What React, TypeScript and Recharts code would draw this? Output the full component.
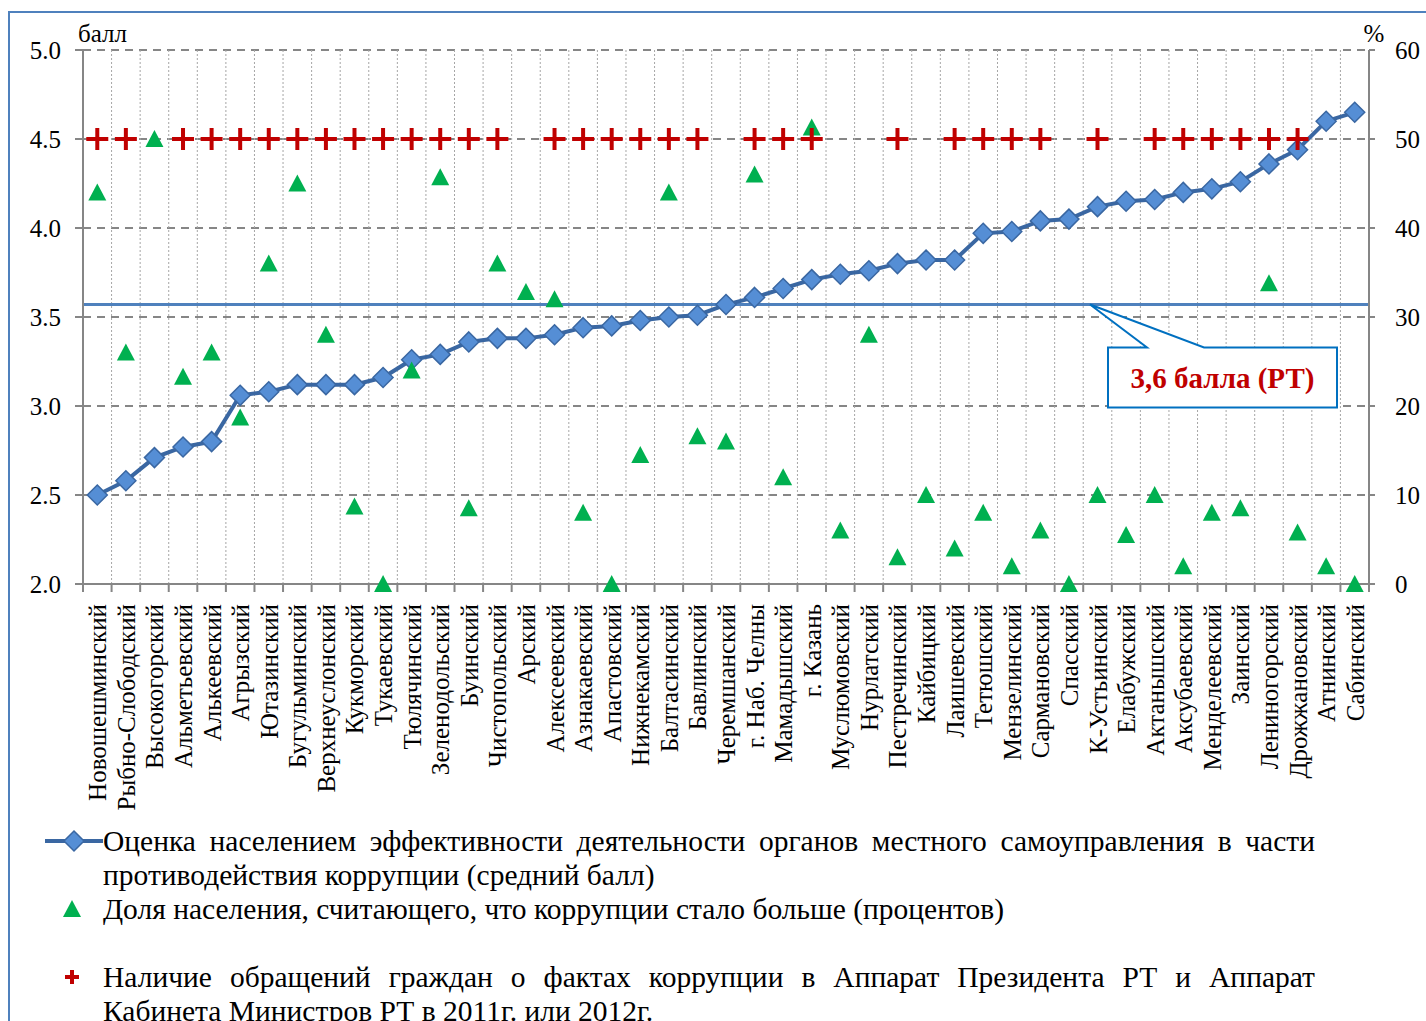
import React from 'react'
import {
  ComposedChart,
  Line,
  XAxis,
  YAxis,
  CartesianGrid,
  ReferenceLine,
} from 'recharts'

const districts = [
  'Новошешминский', 'Рыбно-Слободский', 'Высокогорский', 'Альметьевский', 'Алькеевский',
  'Агрызский', 'Ютазинский', 'Бугульминский', 'Верхнеуслонский', 'Кукморский',
  'Тукаевский', 'Тюлячинский', 'Зеленодольский', 'Буинский', 'Чистопольский',
  'Арский', 'Алексеевский', 'Азнакаевский', 'Апастовский', 'Нижнекамский',
  'Балтасинский', 'Бавлинский', 'Черемшанский', 'г. Наб. Челны', 'Мамадышский',
  'г. Казань', 'Муслюмовский', 'Нурлатский', 'Пестречинский', 'Кайбицкий',
  'Лаишевский', 'Тетюшский', 'Мензелинский', 'Сармановский', 'Спасский',
  'К-Устьинский', 'Елабужский', 'Актанышский', 'Аксубаевский', 'Менделеевский',
  'Заинский', 'Лениногорский', 'Дрожжановский', 'Атнинский', 'Сабинский',
]

// средний балл
const scores = [
  2.5, 2.58, 2.71, 2.77, 2.8, 3.06, 3.08, 3.12, 3.12, 3.12,
  3.16, 3.26, 3.29, 3.36, 3.38, 3.38, 3.4, 3.44, 3.45, 3.48,
  3.5, 3.51, 3.57, 3.61, 3.66, 3.71, 3.74, 3.76, 3.8, 3.82,
  3.82, 3.97, 3.98, 4.04, 4.05, 4.12, 4.15, 4.16, 4.2, 4.22,
  4.26, 4.36, 4.44, 4.6, 4.65,
]

// доля считающих, что коррупции стало больше, %
const morePct = [
  44, 26, 50, 23.3, 26, 18.7, 36, 45, 28, 8.7,
  0, 24, 45.7, 8.5, 36, 32.8, 32, 8, 0, 14.5,
  44, 16.6, 16, 46, 12, 51.3, 6, 28, 3, 10,
  4, 8, 2, 6, 0, 10, 5.5, 10, 2, 8,
  8.5, 33.8, 5.8, 2, 0,
]

// 1 = были обращения в 2011-2012 гг.
const appeals = [
  1, 1, 0, 1, 1, 1, 1, 1, 1, 1,
  1, 1, 1, 1, 1, 0, 1, 1, 1, 1,
  1, 1, 0, 1, 1, 1, 0, 0, 1, 0,
  1, 1, 1, 1, 0, 1, 0, 1, 1, 1,
  1, 1, 1, 0, 0,
]

const leftTicks = [2, 2.5, 3, 3.5, 4, 4.5, 5]
const rightTicks = [0, 10, 20, 30, 40, 50, 60]
const RT_AVG = 3.57
const PLUS_LEVEL = 4.5

const data = districts.map((name, i) => ({
  name,
  score: scores[i],
  pct: morePct[i],
  appeal: appeals[i] ? PLUS_LEVEL : null,
}))

const W = 1426
const H = 1021
const MARGIN = { top: 50, right: 7, left: 23, bottom: 200 }
const LEFT_AXIS_W = 60
const RIGHT_AXIS_W = 50
const X_AXIS_H = 237
const PLOT_W = W - MARGIN.left - MARGIN.right - LEFT_AXIS_W - RIGHT_AXIS_W
const BAND = PLOT_W / districts.length
const TICK_MARGIN = 20

const FONT = "'Liberation Serif', 'Times New Roman', serif"
const AXIS_GRAY = '#868686'

const CategoryTick = (props: any) => {
  const { x, y, payload, index } = props
  const axisY = y - TICK_MARGIN
  return (
    <g>
      <line x1={x - BAND / 2} x2={x - BAND / 2} y1={axisY} y2={axisY + 8} stroke={AXIS_GRAY} strokeWidth={2} />
      {index === districts.length - 1 && (
        <line x1={x + BAND / 2} x2={x + BAND / 2} y1={axisY} y2={axisY + 8} stroke={AXIS_GRAY} strokeWidth={2} />
      )}
      <text
        transform={`translate(${x},${y}) rotate(-90)`}
        textAnchor="end"
        dy="0.36em"
        fontSize={25}
        fontFamily={FONT}
        fill="#000"
      >
        {payload.value}
      </text>
    </g>
  )
}

const DiamondDot = (props: any) => {
  const { cx, cy, index } = props
  if (cx == null || cy == null) return <g key={index} />
  const r = 10
  return (
    <path
      key={index}
      d={`M${cx},${cy - r}L${cx + r},${cy}L${cx},${cy + r}L${cx - r},${cy}Z`}
      fill="#558ED5"
      stroke="#3A67A2"
      strokeWidth={1.5}
    />
  )
}

const TriangleDot = (props: any) => {
  const { cx, cy, index } = props
  if (cx == null || cy == null) return <g key={index} />
  return (
    <path
      key={index}
      d={`M${cx},${cy - 9}L${cx + 9},${cy + 8}L${cx - 9},${cy + 8}Z`}
      fill="#00B050"
    />
  )
}

const PlusDot = (props: any) => {
  const { cx, cy, index } = props
  if (cx == null || cy == null) return <g key={index} />
  return (
    <path
      key={index}
      d={`M${cx - 11},${cy}H${cx + 11}M${cx},${cy - 11}V${cy + 11}`}
      stroke="#C00000"
      strokeWidth={4}
    />
  )
}

const LeftTitle = (props: any) => {
  const vb = props.viewBox
  return (
    <text x={vb.x + vb.width - 5} y={vb.y - 8} fontSize={25} fontFamily={FONT} fill="#000">
      балл
    </text>
  )
}

const RightTitle = (props: any) => {
  const vb = props.viewBox
  return (
    <text x={vb.x + 5} y={vb.y - 8} textAnchor="middle" fontSize={25} fontFamily={FONT} fill="#000">
      %
    </text>
  )
}

const Callout = (props: any) => {
  const { x, y, width } = props.viewBox
  const right = x + width
  const tipX = right - 279
  const boxL = right - 261
  const boxR = right - 32
  const top = y + 43
  const bottom = y + 103
  return (
    <g>
      <path
        d={`M${boxL},${top}H${right - 222}L${tipX},${y}L${right - 165},${top}H${boxR}V${bottom}H${boxL}Z`}
        fill="#fff"
        stroke="#0070C0"
        strokeWidth={2}
      />
      <text
        x={(boxL + boxR) / 2}
        y={y + 83}
        textAnchor="middle"
        fontSize={29}
        fontWeight="bold"
        fontFamily={FONT}
        fill="#C00000"
      >
        3,6 балла (РТ)
      </text>
    </g>
  )
}

const legendText: React.CSSProperties = {
  fontFamily: FONT,
  fontSize: 29.5,
  lineHeight: '34px',
  height: 34,
  color: '#000',
  whiteSpace: 'nowrap',
}

const ChartLegend = () => (
  <div style={{ position: 'absolute', left: 0, top: 824, width: W }}>
    <div style={{ position: 'relative', height: 68 }}>
      <svg width={60} height={34} style={{ position: 'absolute', left: 44, top: 0 }}>
        <line x1={1} x2={59} y1={17} y2={17} stroke="#3A67A2" strokeWidth={4} />
        <path d="M30,7L40,17L30,27L20,17Z" fill="#558ED5" stroke="#3A67A2" strokeWidth={1.5} />
      </svg>
      <div style={{ position: 'absolute', left: 103, width: 1212, top: 0 }}>
        <div style={{ ...legendText, textAlign: 'justify', textAlignLast: 'justify' }}>
          Оценка населением эффективности деятельности органов местного самоуправления в части
        </div>
        <div style={legendText}>противодействия коррупции (средний балл)</div>
      </div>
    </div>
    <div style={{ position: 'relative', height: 68 }}>
      <svg width={30} height={34} style={{ position: 'absolute', left: 57, top: 0 }}>
        <path d="M15,8L24,25L6,25Z" fill="#00B050" />
      </svg>
      <div style={{ position: 'absolute', left: 103, width: 1212, top: 0 }}>
        <div style={legendText}>Доля населения, считающего, что коррупции стало больше (процентов)</div>
      </div>
    </div>
    <div style={{ position: 'relative', height: 68 }}>
      <svg width={30} height={34} style={{ position: 'absolute', left: 57, top: 0 }}>
        <path d="M8,17H22M15,10V24" stroke="#C00000" strokeWidth={4} />
      </svg>
      <div style={{ position: 'absolute', left: 103, width: 1212, top: 0 }}>
        <div style={{ ...legendText, textAlign: 'justify', textAlignLast: 'justify' }}>
          Наличие обращений граждан о фактах коррупции в Аппарат Президента РТ и Аппарат
        </div>
        <div style={legendText}>Кабинета Министров РТ в 2011г. или 2012г.</div>
      </div>
    </div>
  </div>
)

export default function App() {
  return (
    <div style={{ position: 'absolute', left: 0, top: 0, width: W, height: H, overflow: 'hidden', background: '#fff' }}>
      <div
        style={{
          position: 'absolute',
          left: 8,
          top: 11,
          width: W,
          height: H,
          borderLeft: '2px solid #4F81BD',
          borderTop: '2px solid #4F81BD',
        }}
      />
      <div style={{ position: 'absolute', left: 0, top: 0 }}>
        <ComposedChart width={W} height={H} data={data} margin={MARGIN}>
          <CartesianGrid
            yAxisId="left"
            vertical={false}
            stroke={AXIS_GRAY}
            strokeWidth={2}
            strokeDasharray="8 6"
          />
          <CartesianGrid
            yAxisId="left"
            horizontal={false}
            stroke="#a6a6a6"
            strokeWidth={1}
            strokeDasharray="2 2"
            verticalCoordinatesGenerator={({ offset }: any) =>
              districts.slice(1).map((_, i) => offset.left + ((i + 1) * offset.width) / districts.length)
            }
          />
          <XAxis
            dataKey="name"
            scale="band"
            interval={0}
            height={X_AXIS_H}
            tickLine={false}
            tickSize={0}
            tickMargin={TICK_MARGIN}
            axisLine={{ stroke: AXIS_GRAY, strokeWidth: 2 }}
            tick={<CategoryTick />}
          />
          <YAxis
            yAxisId="left"
            domain={[2, 5]}
            ticks={leftTicks}
            width={LEFT_AXIS_W}
            tickFormatter={(v: number) => v.toFixed(1)}
            tick={{ fontSize: 25, fontFamily: FONT, fill: '#000' }}
            tickSize={8}
            tickMargin={14}
            tickLine={{ stroke: AXIS_GRAY, strokeWidth: 2 }}
            axisLine={{ stroke: AXIS_GRAY, strokeWidth: 2 }}
            label={<LeftTitle />}
          />
          <YAxis
            yAxisId="right"
            orientation="right"
            domain={[0, 60]}
            ticks={rightTicks}
            width={RIGHT_AXIS_W}
            tick={{ fontSize: 25, fontFamily: FONT, fill: '#000' }}
            tickSize={6}
            tickMargin={20}
            tickLine={{ stroke: AXIS_GRAY, strokeWidth: 2 }}
            axisLine={{ stroke: AXIS_GRAY, strokeWidth: 2 }}
            label={<RightTitle />}
          />
          <ReferenceLine
            yAxisId="left"
            y={RT_AVG}
            stroke="#4F81BD"
            strokeWidth={3}
            label={<Callout />}
          />
          <Line
            yAxisId="left"
            dataKey="score"
            stroke="#3A67A2"
            strokeWidth={4}
            dot={DiamondDot}
            activeDot={false}
            isAnimationActive={false}
          />
          <Line
            yAxisId="right"
            dataKey="pct"
            stroke="none"
            dot={TriangleDot}
            activeDot={false}
            isAnimationActive={false}
          />
          <Line
            yAxisId="left"
            dataKey="appeal"
            stroke="none"
            dot={PlusDot}
            activeDot={false}
            isAnimationActive={false}
          />
        </ComposedChart>
      </div>
      <ChartLegend />
    </div>
  )
}
